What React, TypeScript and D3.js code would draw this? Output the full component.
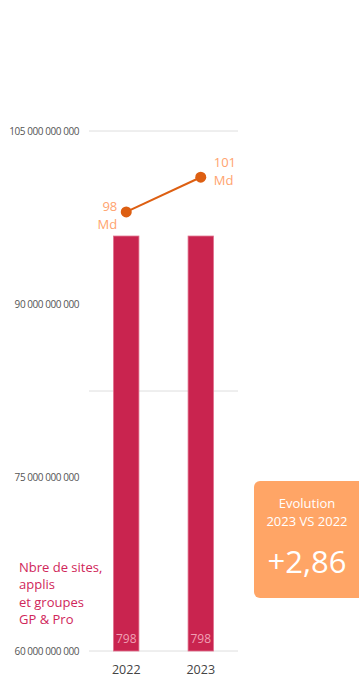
import React from "react";
import * as d3 from "d3";

const years = ["2022", "2023"];
const sites = [798, 798];
const valuesMd = [98, 101];
const pointLabels = ["98", "101"];
const leftTicks = [60e9, 75e9, 90e9, 105e9];
const gridTicks = [0, 500, 1000];
const legendLines = ["Nbre de sites,", "applis", "et groupes", "GP & Pro"];
const cardLines = ["Evolution", "2023 VS 2022"];
const cardValue = "+2,86";

const W = 359;
const H = 677;
const plotLeft = 89;
const plotRight = 238;
const plotTop = 131;
const plotBottom = 651;

const fmt = d3.formatLocale({ decimal: ",", thousands: " ", grouping: [3], currency: ["", "€"] }).format(",d");

export default function App() {
  const x = d3.scaleBand<string>().domain(years).range([plotLeft, plotRight]).paddingInner(0.66).paddingOuter(0.33);
  const yL = d3.scaleLinear().domain([60e9, 105e9]).range([plotBottom, plotTop]);
  const yR = d3.scaleLinear().domain([0, 1000]).range([plotBottom, plotTop]);
  const cx = (d: string) => (x(d) as number) + x.bandwidth() / 2;
  const line = d3
    .line<number>()
    .x((_, i) => cx(years[i]))
    .y((v) => yL(v * 1e9));
  const font = "'Open Sans', 'Noto Sans', sans-serif";
  return (
    <svg width={W} height={H} style={{ position: "fixed", left: 0, top: 0, background: "#fff" }} fontFamily={font}>
      {gridTicks.map((t) => (
        <line key={t} x1={plotLeft} x2={plotRight} y1={yR(t)} y2={yR(t)} stroke="#dedede" strokeWidth={1} />
      ))}
      {leftTicks.map((t) => (
        <text key={t} x={79} y={yL(t)} dy="0.35em" textAnchor="end" fontSize={10} fill="#555" letterSpacing={-0.45}>
          {fmt(t)}
        </text>
      ))}
      {years.map((d, i) => (
        <g key={d}>
          <rect
            x={x(d) as number}
            y={yR(sites[i])}
            width={x.bandwidth()}
            height={yR(0) - yR(sites[i])}
            fill="#C9244F"
            stroke="#E06D8A"
            strokeWidth={0.8}
          />
          <text x={cx(d)} y={yR(0) - 8} textAnchor="middle" fontSize={12} fill="#F0A0B4">
            {sites[i]}
          </text>
          <text x={cx(d)} y={674} textAnchor="middle" fontSize={12.5} fill="#444">
            {d}
          </text>
        </g>
      ))}
      <path d={line(valuesMd) || ""} fill="none" stroke="#DD5F12" strokeWidth={2} />
      {valuesMd.map((v, i) => (
        <circle key={i} cx={cx(years[i])} cy={yL(v * 1e9)} r={5.5} fill="#DD5F12" />
      ))}
      <text x={cx(years[0]) - 9} y={yL(valuesMd[0] * 1e9) - 0} textAnchor="end" fontSize={13} fill="#FFA36E">
        <tspan x={cx(years[0]) - 9} dy="-0.05em">{pointLabels[0]}</tspan>
        <tspan x={cx(years[0]) - 9} dy="1.35em">Md</tspan>
      </text>
      <text x={cx(years[1]) + 13} y={yL(valuesMd[1] * 1e9)} textAnchor="start" fontSize={13} fill="#FFA36E">
        <tspan x={cx(years[1]) + 13} dy="-0.75em">{pointLabels[1]}</tspan>
        <tspan x={cx(years[1]) + 13} dy="1.35em">Md</tspan>
      </text>
      {legendLines.map((l, i) => (
        <text key={i} x={19} y={572 + i * 17.3} fontSize={13} fill="#D0265A">
          {l}
        </text>
      ))}
      <rect x={254} y={481} width={110} height={117} rx={6} fill="#FFA566" />
      {cardLines.map((l, i) => (
        <text key={i} x={307} y={508 + i * 18} textAnchor="middle" fontSize={13} fill="#fff">
          {l}
        </text>
      ))}
      <text x={307} y={573} textAnchor="middle" fontSize={31} fill="#fff">
        {cardValue}
      </text>
    </svg>
  );
}
